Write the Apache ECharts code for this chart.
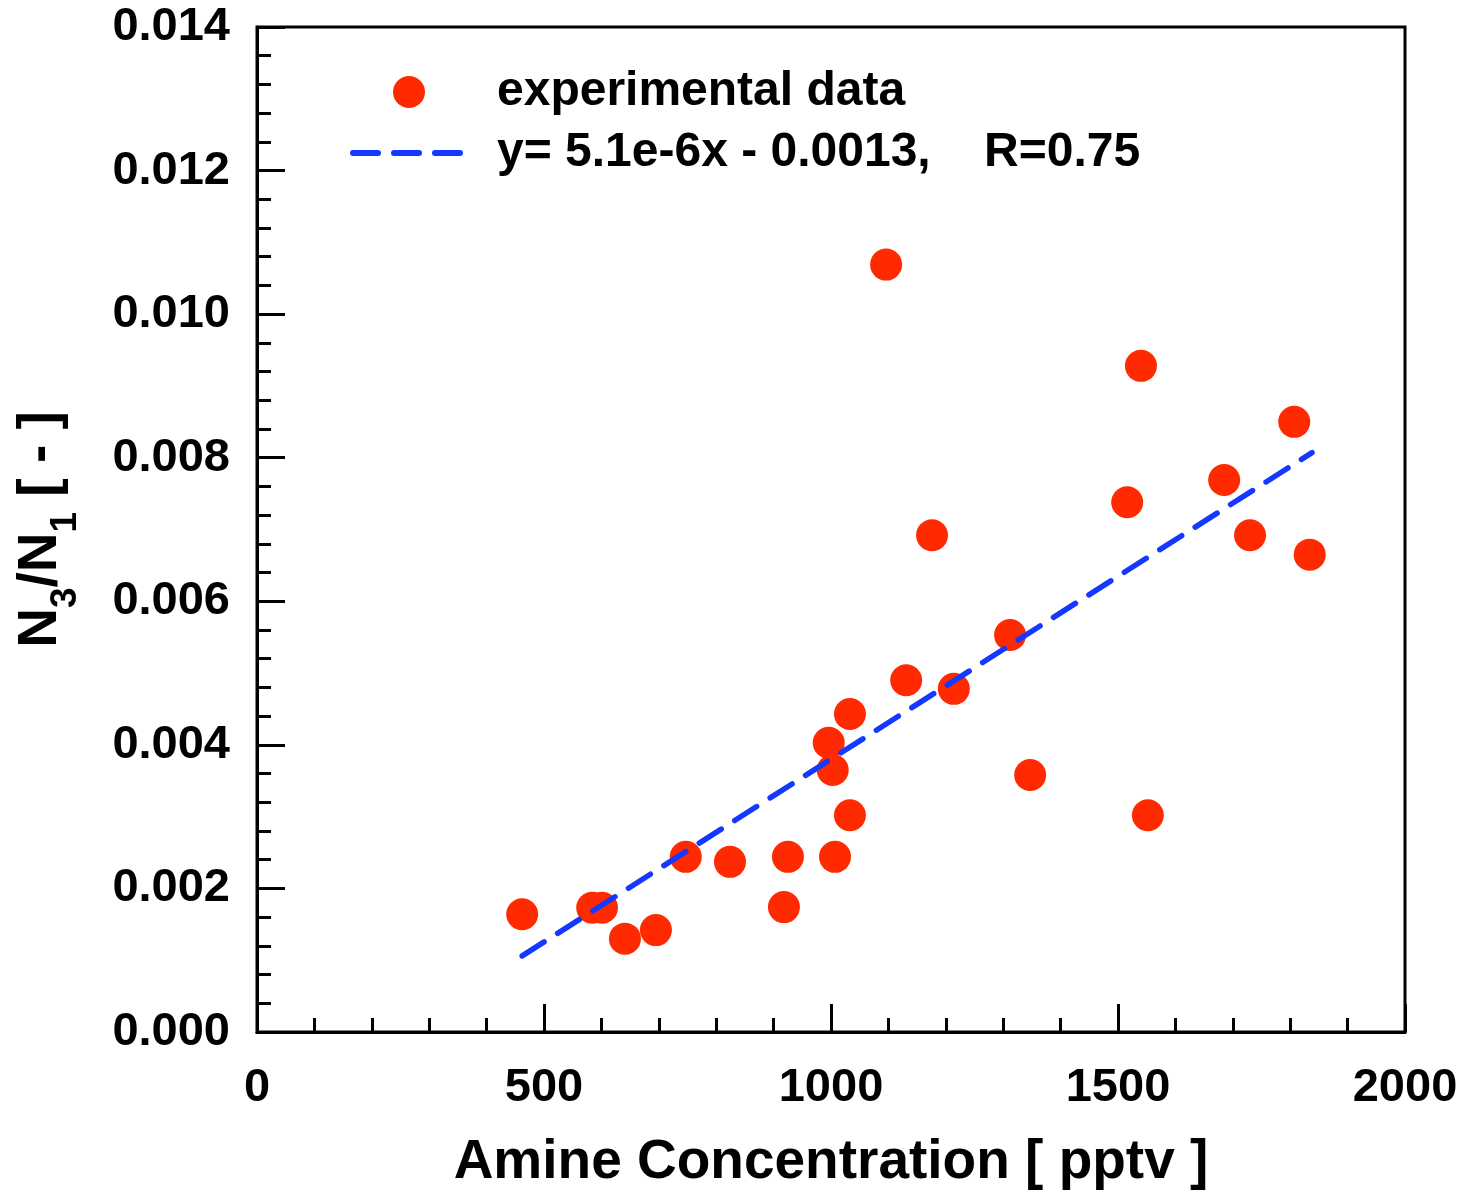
<!DOCTYPE html>
<html>
<head>
<meta charset="utf-8">
<script src="https://cdn.jsdelivr.net/npm/echarts@6/dist/echarts.min.js"></script>
<style>
html,body{margin:0;padding:0;background:#fff;}
#c{width:1463px;height:1191px;}
</style>
</head>
<body>
<div id="c"></div>
<script>
// Data
var amineX = [462, 584, 601, 641, 695, 747, 824, 918, 925, 996, 1003, 1007, 1033, 1033, 1096, 1131, 1176, 1214, 1312, 1347, 1516, 1540, 1552, 1685, 1730, 1807, 1834];
var ratioY = [0.00164, 0.00173, 0.00173, 0.00130, 0.00142, 0.00244, 0.00237, 0.00174, 0.00244, 0.00403, 0.00365, 0.00244, 0.00443, 0.00302, 0.01069, 0.00490, 0.00692, 0.00478, 0.00553, 0.00358, 0.00738, 0.00928, 0.00302, 0.00769, 0.00692, 0.00850, 0.00665];
var fitX = [462, 1838];
var fitY = [0.00106, 0.00807];
var seriesNames = ['experimental data', 'y= 5.1e-6x - 0.0013,    R=0.75'];
var xTitle = 'Amine Concentration [ pptv ]';
var yTitle = '{n|N}{sub|3}{n|/N}{sub|1}{n| [ - ]}';

var FONT = '"Liberation Sans", Arial, sans-serif';
var chart = echarts.init(document.getElementById('c'));

var scatterData = amineX.map(function (x, i) { return [x, ratioY[i]]; });
var fitData = fitX.map(function (x, i) { return [x, fitY[i]]; });

chart.setOption({
  animation: false,
  backgroundColor: '#ffffff',
  grid: {
    left: 257, top: 27, right: 58, bottom: 159,
    outerBoundsMode: 'none',
    containLabel: false,
    show: true, borderColor: '#000', borderWidth: 3, backgroundColor: 'transparent'
  },
  legend: {
    orient: 'vertical',
    left: 345,
    top: 63,
    itemWidth: 112,
    itemHeight: 32,
    itemGap: 13,
    selectedMode: false,
    textStyle: {
      fontFamily: FONT, fontWeight: 'bold', fontSize: 48, color: '#000',
      lineHeight: 48, padding: [0, 0, 0, 27]
    },
    data: [
      { name: seriesNames[0] },
      {
        name: seriesNames[1],
        itemStyle: { color: 'rgba(0,0,0,0)', borderWidth: 0, opacity: 0 },
        lineStyle: { color: '#1438ff', width: 6, type: [25, 16], cap: 'round' }
      }
    ]
  },
  xAxis: {
    type: 'value',
    min: 0, max: 2000, interval: 500,
    name: xTitle,
    nameLocation: 'middle',
    nameGap: 103,
    nameTextStyle: { fontFamily: FONT, fontWeight: 'bold', fontSize: 55, color: '#000' },
    axisLine: { show: true, lineStyle: { color: '#000', width: 3 } },
    axisTick: { show: true, inside: true, length: 28, lineStyle: { color: '#000', width: 3 } },
    minorTick: { show: true, splitNumber: 5, length: 14, lineStyle: { color: '#000', width: 3 } },
    splitLine: { show: false },
    minorSplitLine: { show: false },
    axisLabel: {
      margin: 33, fontFamily: FONT, fontWeight: 'bold', fontSize: 47, color: '#000',
      formatter: function (v) { return String(v); }
    }
  },
  yAxis: {
    type: 'value',
    min: 0, max: 0.014, interval: 0.002,
    name: yTitle,
    nameLocation: 'middle',
    nameRotate: 90,
    nameGap: 189,
    nameMoveOverlap: false,
    nameTextStyle: {
      fontFamily: FONT, fontWeight: 'bold', fontSize: 55, color: '#000',
      rich: {
        n: { fontFamily: FONT, fontWeight: 'bold', fontSize: 55, color: '#000', lineHeight: 55, verticalAlign: 'top' },
        sub: { fontFamily: FONT, fontWeight: 'bold', fontSize: 37, color: '#000', lineHeight: 37, padding: [34, 0, 0, 0], verticalAlign: 'top' }
      }
    },
    axisLine: { show: true, lineStyle: { color: '#000', width: 3 } },
    axisTick: { show: true, inside: true, length: 28, lineStyle: { color: '#000', width: 3 } },
    minorTick: { show: true, splitNumber: 5, length: 14, lineStyle: { color: '#000', width: 3 } },
    splitLine: { show: false },
    minorSplitLine: { show: false },
    axisLabel: {
      margin: 27, fontFamily: FONT, fontWeight: 'bold', fontSize: 47, color: '#000',
      formatter: function (v) { return v.toFixed(3); }
    }
  },
  series: [
    {
      name: seriesNames[0],
      type: 'scatter',
      data: scatterData,
      symbol: 'circle',
      symbolSize: 32,
      itemStyle: { color: '#ff2a00', opacity: 1 },
      z: 2
    },
    {
      name: seriesNames[1],
      type: 'line',
      data: fitData,
      symbol: 'none',
      showSymbol: false,
      lineStyle: { color: '#1438ff', width: 5.5, type: [26, 16], cap: 'round' },
      itemStyle: { color: '#1438ff' },
      z: 3
    }
  ]
});
</script>
</body>
</html>
